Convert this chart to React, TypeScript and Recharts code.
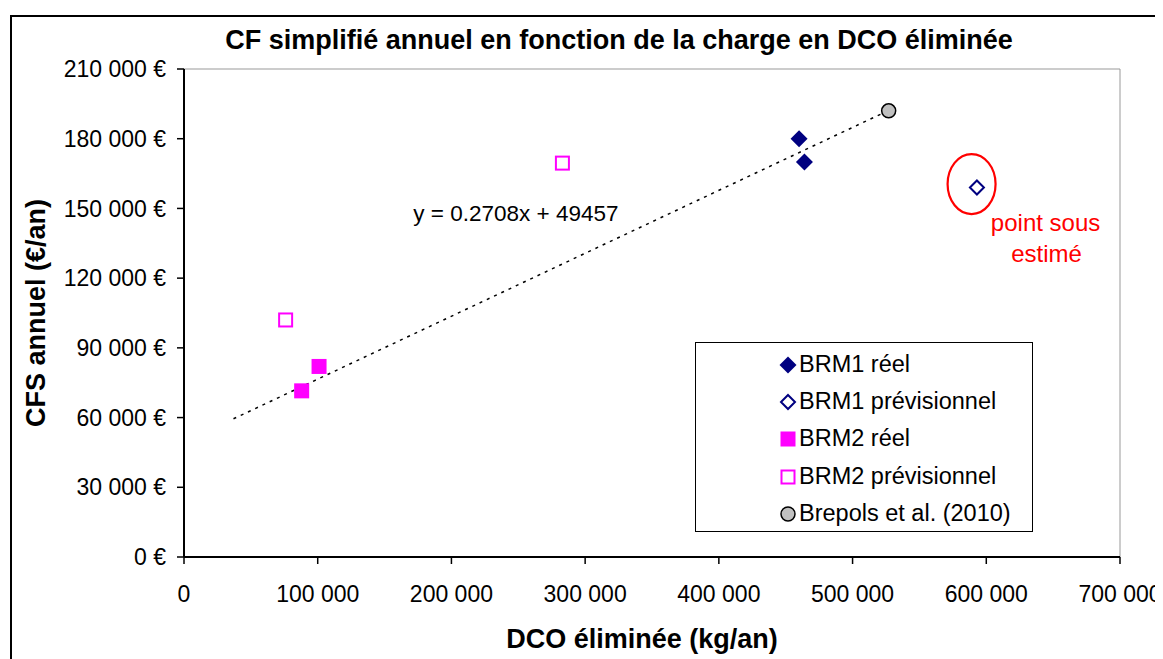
import {
  ScatterChart,
  Scatter,
  XAxis,
  YAxis,
  ReferenceArea,
  ReferenceLine,
  ReferenceDot,
} from "recharts";

// DCO éliminée (kg/an) / CFS annuel (€/an)
const brm1ReelX = [460000, 464000];
const brm1ReelY = [180000, 170000];
const brm1PrevX = [593000];
const brm1PrevY = [159000];
const brm2ReelX = [101000, 88000];
const brm2ReelY = [82000, 71500];
const brm2PrevX = [76000, 283000];
const brm2PrevY = [102000, 169500];
const brepolsX = [527000];
const brepolsY = [192000];

const xTicks = [0, 100000, 200000, 300000, 400000, 500000, 600000, 700000];
const yTicks = [0, 30000, 60000, 90000, 120000, 150000, 180000, 210000];

// tendance affichée sur le graphique
const trendSlope = 0.2708;
const trendIntercept = 49457;
const trendStart = 37000;
const trendEnd = 527000;

const NAVY = "#000080";
const MAGENTA = "#FF00FF";
const FONT = "Arial, 'Liberation Sans', sans-serif";

const pts = (xs: number[], ys: number[]) => xs.map((x, i) => ({ x, y: ys[i] }));

const fmt = (v: number) => String(v).replace(/\B(?=(\d{3})+(?!\d))/g, " ");

const FilledDiamond = (p: any) => {
  const { cx, cy } = p;
  const s = 8.5;
  return <polygon points={`${cx},${cy - s} ${cx + s},${cy} ${cx},${cy + s} ${cx - s},${cy}`} fill={NAVY} />;
};
const OpenDiamond = (p: any) => {
  const { cx, cy } = p;
  const s = 7;
  return (
    <polygon
      points={`${cx},${cy - s} ${cx + s},${cy} ${cx},${cy + s} ${cx - s},${cy}`}
      fill="#fff"
      stroke={NAVY}
      strokeWidth={2}
    />
  );
};
const FilledSquare = (p: any) => (
  <rect x={p.cx - 7.5} y={p.cy - 7.5} width={15} height={15} fill={MAGENTA} />
);
const OpenSquare = (p: any) => (
  <rect x={p.cx - 6.5} y={p.cy - 6.5} width={13} height={13} fill="#fff" stroke={MAGENTA} strokeWidth={2} />
);
const GreyCircle = (p: any) => (
  <circle cx={p.cx} cy={p.cy} r={7} fill="#C0C0C0" stroke="#000" strokeWidth={1.5} />
);

const legendItems = [
  { name: "BRM1 réel", Icon: FilledDiamond },
  { name: "BRM1 prévisionnel", Icon: OpenDiamond },
  { name: "BRM2 réel", Icon: FilledSquare },
  { name: "BRM2 prévisionnel", Icon: OpenSquare },
  { name: "Brepols et al. (2010)", Icon: GreyCircle },
];

const LegendBox = () => (
  <div
    style={{
      position: "absolute",
      left: 687,
      top: 334,
      width: 338,
      height: 190,
      border: "1.5px solid #000",
      background: "#fff",
      boxSizing: "border-box",
      paddingTop: 3,
      fontFamily: FONT,
      fontSize: 23.5,
      lineHeight: 1,
    }}
  >
    {legendItems.map(({ name, Icon }) => (
      <div key={name} style={{ display: "flex", alignItems: "center", height: 37.3 }}>
        <svg width={103} height={24} style={{ flex: "none" }}>
          <Icon cx={92} cy={12} />
        </svg>
        <span style={{ color: "#000" }}>{name}</span>
      </div>
    ))}
  </div>
);

export default function App() {
  return (
    <div style={{ position: "relative", width: 1155, height: 651, background: "#fff" }}>
      <div
        style={{
          position: "absolute",
          left: 2,
          top: 7,
          width: 1170,
          height: 660,
          border: "2px solid #000",
          boxSizing: "border-box",
        }}
      />
      <ScatterChart width={1155} height={651} margin={{ top: 61, right: 43, bottom: 42, left: 0 }}>
        <text
          x={611}
          y={32}
          textAnchor="middle"
          dominantBaseline="central"
          fontFamily={FONT}
          fontWeight="bold"
          fontSize={27}
          fill="#000"
        >
          CF simplifié annuel en fonction de la charge en DCO éliminée
        </text>
        <ReferenceArea x1={0} x2={700000} y1={0} y2={210000} fill="none" stroke="#999" strokeWidth={1} ifOverflow="visible" />
        <XAxis
          type="number"
          dataKey="x"
          domain={[0, 700000]}
          ticks={xTicks}
          tickFormatter={fmt}
          height={60}
          axisLine={{ stroke: "#000", strokeWidth: 2 }}
          tickLine={{ stroke: "#000", strokeWidth: 1.5 }}
          tickSize={7}
          tickMargin={22}
          tick={{ fill: "#000", fontSize: 23, fontFamily: FONT }}
          interval={0}
          label={(props: any) => {
            const vb = props.viewBox;
            return (
              <text
                x={vb.x + vb.width / 2 - 10}
                y={631}
                textAnchor="middle"
                dominantBaseline="central"
                fontFamily={FONT}
                fontWeight="bold"
                fontSize={27}
                fill="#000"
              >
                DCO éliminée (kg/an)
              </text>
            );
          }}
        />
        <YAxis
          type="number"
          dataKey="y"
          domain={[0, 210000]}
          ticks={yTicks}
          tickFormatter={(v: number) => `${fmt(v)} €`}
          width={176}
          axisLine={{ stroke: "#000", strokeWidth: 2 }}
          tickLine={{ stroke: "#000", strokeWidth: 1.5 }}
          tickSize={7}
          tickMargin={11}
          tick={{ fill: "#000", fontSize: 23, fontFamily: FONT }}
          interval={0}
          label={(props: any) => {
            const vb = props.viewBox;
            const cy = vb.y + vb.height / 2;
            return (
              <text
                x={28}
                y={cy}
                transform={`rotate(-90 28 ${cy})`}
                textAnchor="middle"
                dominantBaseline="central"
                fontFamily={FONT}
                fontWeight="bold"
                fontSize={27}
                fill="#000"
              >
                CFS annuel (€/an)
              </text>
            );
          }}
        />
        <ReferenceLine
          segment={[
            { x: trendStart, y: trendSlope * trendStart + trendIntercept },
            { x: trendEnd, y: trendSlope * trendEnd + trendIntercept },
          ]}
          stroke="#000"
          strokeWidth={1.5}
          strokeDasharray="3 5"
          ifOverflow="visible"
        />
        <ReferenceDot
          x={171500}
          y={148000}
          r={0}
          ifOverflow="visible"
          shape={(p: any) => (
            <text x={p.cx} y={p.cy} dominantBaseline="central" fontFamily={FONT} fontSize={22.5} fill="#000">
              y = 0.2708x + 49457
            </text>
          )}
        />
        <ReferenceDot
          x={589000}
          y={160500}
          r={0}
          ifOverflow="visible"
          shape={(p: any) => (
            <g>
              <ellipse cx={p.cx} cy={p.cy} rx={24} ry={30} fill="none" stroke="#FF0000" strokeWidth={2.2} />
              <text x={p.cx + 74} y={p.cy + 38} textAnchor="middle" dominantBaseline="central" fontFamily={FONT} fontSize={24} fill="#FF0000">
                point sous
              </text>
              <text x={p.cx + 75} y={p.cy + 69} textAnchor="middle" dominantBaseline="central" fontFamily={FONT} fontSize={24} fill="#FF0000">
                estimé
              </text>
            </g>
          )}
        />
        <Scatter name="BRM1 réel" data={pts(brm1ReelX, brm1ReelY)} shape={FilledDiamond} isAnimationActive={false} />
        <Scatter name="BRM1 prévisionnel" data={pts(brm1PrevX, brm1PrevY)} shape={OpenDiamond} isAnimationActive={false} />
        <Scatter name="BRM2 réel" data={pts(brm2ReelX, brm2ReelY)} shape={FilledSquare} isAnimationActive={false} />
        <Scatter name="BRM2 prévisionnel" data={pts(brm2PrevX, brm2PrevY)} shape={OpenSquare} isAnimationActive={false} />
        <Scatter name="Brepols et al. (2010)" data={pts(brepolsX, brepolsY)} shape={GreyCircle} isAnimationActive={false} />
      </ScatterChart>
      <LegendBox />
    </div>
  );
}
